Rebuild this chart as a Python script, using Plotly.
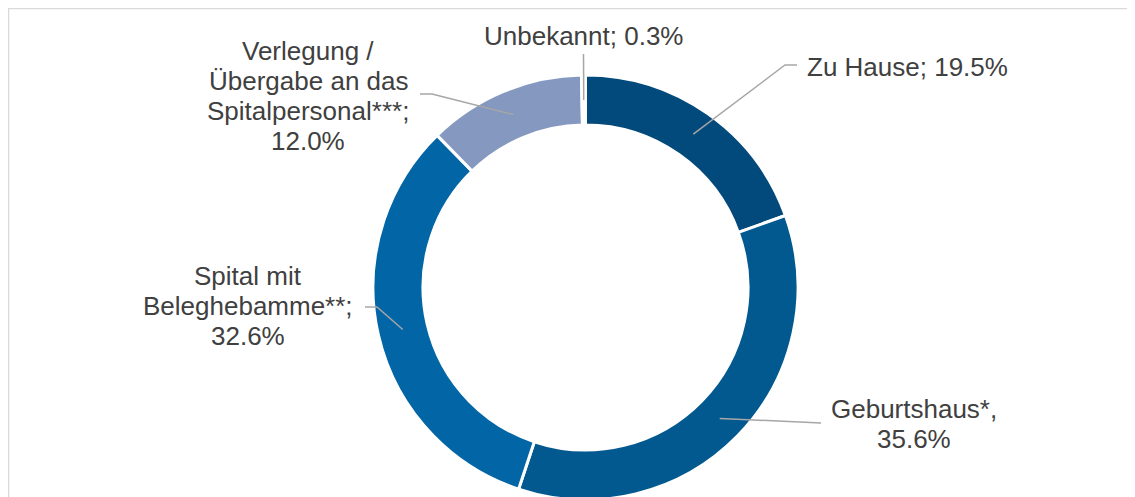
import math

import plotly.graph_objects as go

# data
labels = ["Zu Hause", "Geburtshaus*", "Spital mit Beleghebamme**",
          "Verlegung / Übergabe an das Spitalpersonal***", "Unbekannt"]
shares = [19.5, 35.6, 32.6, 12.0, 0.3]
label_lines = [
    ["Zu Hause; 19.5%"],
    ["Geburtshaus*,", "35.6%"],
    ["Spital mit", "Beleghebamme**;", "32.6%"],
    ["Verlegung /", "Übergabe an das", "Spitalpersonal***;", "12.0%"],
    ["Unbekannt; 0.3%"],
]
colors = ["#024a7c", "#02598f", "#0265a6", "#8599c0", "#ffffff"]

W, H = 1135, 540
OFF = 8                    # page body margin
CX, CY = 585.5, 287.5      # donut centre, px in the screenshot
R_OUT, R_IN = 212.5, 162.5
LINE_PITCH = 30
FONT = dict(family="Liberation Sans, Arial, sans-serif", size=26, color="#404040")
LEADER = dict(color="#a6a6a6", width=1.5)

# label placement: (x, middle y of first line, xanchor), elbow points
LABEL_POS = [
    dict(x=805, y=67, xanchor="left", elbow=[(797, 65), (785, 65)]),
    dict(x=914, y=409, xanchor="center", elbow=[(821, 423)]),
    dict(x=247.5, y=276, xanchor="center", elbow=[(365, 307), (377, 307)]),
    dict(x=308, y=51, xanchor="center", elbow=[(420, 94), (432, 94)]),
    dict(x=583.5, y=36, xanchor="center", elbow=[(583.5, 54)]),
]


def px(x, y):
    return (x - OFF) / W, 1 - (y - OFF) / H


fig = go.Figure(
    go.Pie(
        labels=labels,
        values=shares,
        sort=False,
        direction="clockwise",
        rotation=0,
        hole=R_IN / R_OUT,
        marker=dict(colors=colors, line=dict(color="#ffffff", width=3)),
        textinfo="none",
        hoverinfo="label+percent",
        showlegend=False,
        domain=dict(x=[px(CX - R_OUT, 0)[0], px(CX + R_OUT, 0)[0]],
                    y=[px(0, CY + R_OUT)[1], px(0, CY - R_OUT)[1]]),
    )
)

shapes = [dict(type="rect", xref="paper", yref="paper",
               x0=px(8.5, 0)[0], x1=1.02, y0=-0.05, y1=px(0, 8.5)[1],
               line=dict(color="#d9d9d9", width=1.5), fillcolor="rgba(0,0,0,0)")]
annotations = []

total = sum(shares)
start = 0.0
for i, v in enumerate(shares):
    mid = (start + v / 2) / total * 2 * math.pi
    start += v
    r_mid = (R_OUT + R_IN) / 2
    ex, ey = CX + r_mid * math.sin(mid), CY - r_mid * math.cos(mid)
    pos = LABEL_POS[i]
    pts = pos["elbow"] + [(ex, ey)]
    path = "M " + " L ".join(f"{px(a, b)[0]:.5f},{px(a, b)[1]:.5f}" for a, b in pts)
    shapes.append(dict(type="path", xref="paper", yref="paper", path=path, line=LEADER))
    for j, line in enumerate(label_lines[i]):
        x, y = px(pos["x"], pos["y"] + j * LINE_PITCH)
        annotations.append(dict(text=line, x=x, y=y, xref="paper", yref="paper",
                                xanchor=pos["xanchor"], yanchor="middle",
                                showarrow=False, font=FONT))

fig.update_layout(
    width=W,
    height=H,
    margin=dict(l=0, r=0, t=0, b=0),
    paper_bgcolor="#ffffff",
    plot_bgcolor="#ffffff",
    shapes=shapes,
    annotations=annotations,
)

fig.write_html("out.html")
